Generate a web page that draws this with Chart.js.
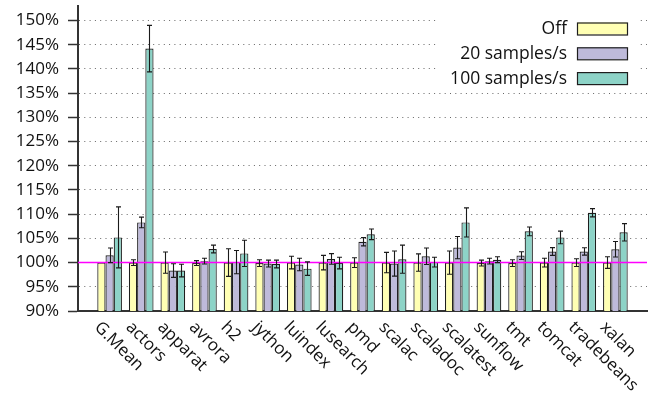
<!DOCTYPE html>
<html><head><meta charset="utf-8">
<script src="https://cdn.jsdelivr.net/npm/chart.js@4/dist/chart.umd.min.js"></script>
<style>html,body{margin:0;padding:0;background:#fff}canvas{display:block}</style>
</head><body>
<canvas id="c" width="656" height="397"></canvas>
<script>
const categories = ['G.Mean','actors','apparat','avrora','h2','jython','luindex','lusearch','pmd','scalac','scaladoc','scalatest','sunflow','tmt','tomcat','tradebeans','xalan'];
const seriesNames = ['Off','20 samples/s','100 samples/s'];
const offValues  = [100,100,100,99.9,100,99.9,100,100,100,100,100,100,99.9,99.9,100,100,100];
const offErrors  = [0,0.6,2.2,0.5,2.85,0.7,1.3,1.5,1.0,2.1,1.8,2.4,0.6,0.7,0.9,0.8,1.2];
const s20Values  = [101.5,108.3,98.35,100.3,100.1,99.8,99.6,100.75,104.3,99.8,101.3,103.1,100.3,101.45,102.3,102.3,102.75];
const s20Errors  = [1.5,1.1,1.4,0.6,2.4,0.7,1.3,1.1,0.85,2.6,1.7,2.3,0.6,0.8,0.8,0.75,1.6];
const s100Values = [105.2,144.2,98.35,102.8,101.9,99.7,98.75,99.9,105.85,100.7,100.1,108.3,100.6,106.45,105.2,110.3,106.25];
const s100Errors = [6.3,4.8,1.3,0.8,2.7,0.8,1.4,1.2,1.1,2.9,1.0,3.0,0.6,0.9,1.3,0.85,1.8];
const yTicks = [90,95,100,105,110,115,120,125,130,135,140,145,150];
const baseline = 100;

const colors = ['#ffffb3','#bebada','#8dd3c7'];
const FONT = '"Open Sans", "Noto Sans", sans-serif';
const pad = a => [null, ...a, null];
const labels = ['', ...categories, ''];

const mk = (name, vals, errs, col) => ({
  label: name, data: pad(vals), errors: pad(errs),
  backgroundColor: col, borderColor: '#1e1e1e', borderWidth: 1.2,
  categoryPercentage: 0.78, barPercentage: 1.0
});

const overlay = {
  id: 'overlay',
  afterDatasetsDraw(chart) {
    const ctx = chart.ctx, ys = chart.scales.y;
    const area = chart.chartArea;
    ctx.save();
    const yb = ys.getPixelForValue(baseline);
    ctx.strokeStyle = '#ff00ff'; ctx.lineWidth = 1.5;
    ctx.beginPath(); ctx.moveTo(area.left, yb); ctx.lineTo(area.right, yb); ctx.stroke();
    ctx.strokeStyle = '#1a1a1a'; ctx.lineWidth = 1.1;
    chart.data.datasets.forEach((ds, di) => {
      const meta = chart.getDatasetMeta(di);
      meta.data.forEach((bar, i) => {
        const v = ds.data[i], e = ds.errors[i];
        if (v == null || !e) return;
        const t = ys.getPixelForValue(v + e), b = ys.getPixelForValue(v - e);
        const x = Math.round(bar.x) + 0.5;
        ctx.beginPath();
        ctx.moveTo(x, t); ctx.lineTo(x, b);
        ctx.moveTo(x - 2.5, t); ctx.lineTo(x + 2.5, t);
        ctx.moveTo(x - 2.5, b); ctx.lineTo(x + 2.5, b);
        ctx.stroke();
      });
    });
    ctx.restore();
  },
  afterDraw(chart) {
    const ctx = chart.ctx, xs = chart.scales.x;
    ctx.save();
    ctx.fillStyle = '#111';
    ctx.font = '17px ' + FONT;
    ctx.textAlign = 'left'; ctx.textBaseline = 'middle';
    categories.forEach((c, i) => {
      const px = xs.getPixelForValue(i + 1);
      ctx.save();
      ctx.translate(px - 12.5, 324.5);
      ctx.rotate(Math.PI / 4);
      ctx.fillText(c, 0, 0);
      ctx.restore();
    });
    ctx.fillStyle = '#fff';
    ctx.fillRect(436, 9, 201, 80);
    ctx.font = '17.5px ' + FONT;
    ctx.textAlign = 'right';
    chart.data.datasets.forEach((ds, di) => {
      const cy = 28.5 + di * 24.8;
      ctx.fillStyle = '#111';
      ctx.fillText(ds.label, 567, cy + 1);
      ctx.fillStyle = ds.backgroundColor;
      ctx.fillRect(577, cy - 6, 50, 12);
      ctx.strokeStyle = '#1e1e1e'; ctx.lineWidth = 1.2;
      ctx.strokeRect(577.5, cy - 5.5, 50, 12);
    });
    ctx.restore();
  }
};

new Chart(document.getElementById('c'), {
  type: 'bar',
  data: {
    labels: labels,
    datasets: [
      mk(seriesNames[0], offValues, offErrors, colors[0]),
      mk(seriesNames[1], s20Values, s20Errors, colors[1]),
      mk(seriesNames[2], s100Values, s100Errors, colors[2])
    ]
  },
  options: {
    responsive: false, animation: false, devicePixelRatio: 1,
    layout: { padding: { top: 6, right: 9, left: 0, bottom: 0 } },
    plugins: { legend: { display: false }, tooltip: { enabled: false } },
    scales: {
      x: {
        type: 'category', offset: false,
        grid: { display: false },
        border: { display: true, color: '#333', width: 2 },
        ticks: { display: false },
        afterFit: s => { s.height = 86; s.paddingLeft = 0; s.paddingRight = 0; }
      },
      y: {
        min: 90, max: 153,
        afterFit: s => { s.width = 78; s.paddingTop = 0; s.paddingBottom = 0; },
        afterBuildTicks: s => { s.ticks = yTicks.map(v => ({ value: v })); },
        border: { display: true, color: '#333', width: 2, dash: [1, 4.3] },
        grid: {
          color: '#666', lineWidth: 1,
          tickLength: 10, tickColor: '#333', tickWidth: 1.5, tickBorderDash: [],
          drawOnChartArea: true
        },
        ticks: {
          padding: 9, color: '#111',
          font: { family: FONT, size: 17 },
          callback: v => v + '%'
        }
      }
    }
  },
  plugins: [overlay]
});
</script>
</body></html>
